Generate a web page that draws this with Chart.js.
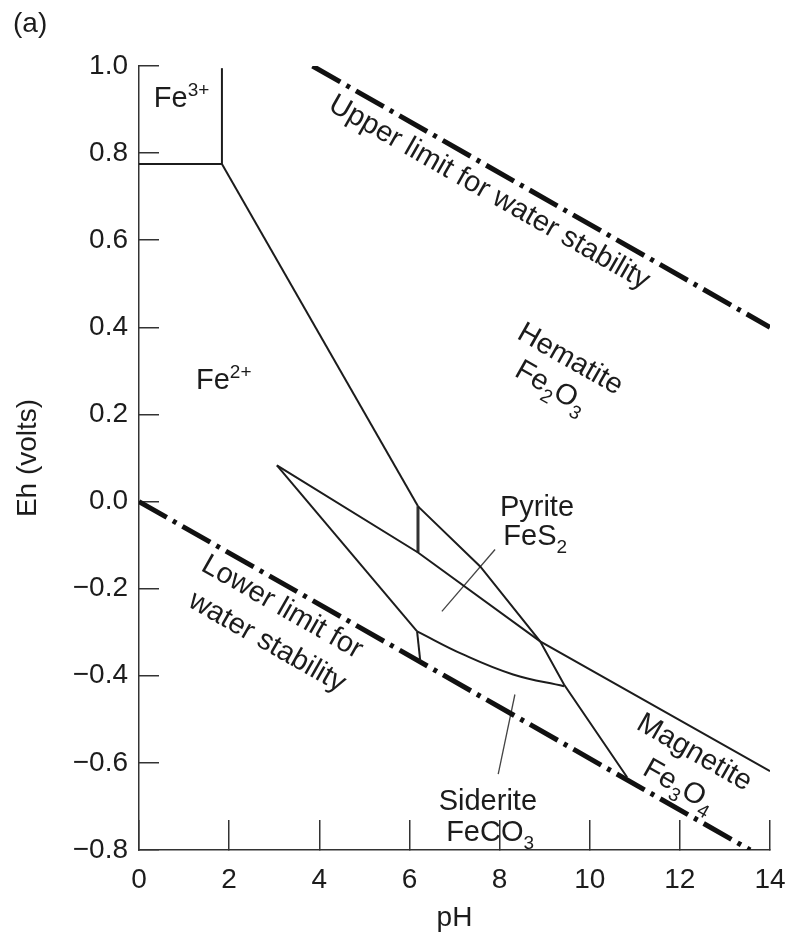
<!DOCTYPE html>
<html>
<head>
<meta charset="utf-8">
<script src="https://cdn.jsdelivr.net/npm/chart.js@4.4.1/dist/chart.umd.min.js"></script>
<style>
  html, body { margin: 0; padding: 0; background: #fff; }
  #wrap { width: 785px; height: 942px; position: relative; }
</style>
</head>
<body>
<div id="wrap"><canvas id="myChart"></canvas></div>
<script>
// tick values
const phTicks = [0, 2, 4, 6, 8, 10, 12, 14];
const ehTicks = [-0.8, -0.6, -0.4, -0.2, 0.0, 0.2, 0.4, 0.6, 0.8, 1.0];

// field boundaries as [pH, Eh] pairs
const fe3Floor = [[0, 0.775], [1.84, 0.775]];
const fe3Wall = [[1.84, 0.775], [1.84, 0.995]];
const fe2Hematite = [[1.84, 0.775], [6.19, -0.011]];
const pyriteRight = [[6.19, -0.011], [7.57, -0.149], [8.90, -0.321], [9.43, -0.42], [10.83, -0.633]];
const pyriteTop = [[3.06, 0.083], [6.19, -0.117], [8.90, -0.321], [14.0, -0.619]];
const pyriteLeft = [[3.06, 0.083], [6.17, -0.298]];
const sideriteTop = [[6.17, -0.298], [7.19, -0.351], [8.30, -0.397], [9.43, -0.424]];
const sideriteWall = [[6.17, -0.298], [6.24, -0.366]];
const pyriteWall = [[6.19, -0.011], [6.19, -0.117]];
const waterHigh = [[3.85, 1.0], [14.0, 0.40]];
const waterLow = [[0, 0.0], [13.56, -0.8]];
const pyriteLeader = [[6.72, -0.252], [7.90, -0.110]];
const sideriteLeader = [[8.34, -0.443], [7.97, -0.626]];

// text labels: anchor [pH, Eh], pieces of text, alignment, rotated along water lines
const labels = [
  { at: [0.33, 0.929], parts: [['Fe'], ['3+', 'sup']], align: 'left' },
  { at: [1.265, 0.282], parts: [['Fe'], ['2+', 'sup']], align: 'left' },
  { at: [7.79, 0.713], parts: [['Upper limit for water stability']], rot: true },
  { at: [9.585, 0.330], parts: [['Hematite']], rot: true },
  { at: [9.16, 0.266], parts: [['Fe'], ['2', 'sub'], ['O'], ['3', 'sub']], rot: true },
  { at: [8.83, -0.011], parts: [['Pyrite']] },
  { at: [8.79, -0.076], parts: [['FeS'], ['2', 'sub']] },
  { at: [7.74, -0.686], parts: [['Siderite']] },
  { at: [7.79, -0.757], parts: [['FeCO'], ['3', 'sub']] },
  { at: [12.34, -0.573], parts: [['Magnetite']], rot: true },
  { at: [12.0, -0.649], parts: [['Fe'], ['3', 'sub'], ['O'], ['4', 'sub']], rot: true },
  { at: [3.195, -0.239], parts: [['Lower limit for']], rot: true },
  { at: [2.86, -0.319], parts: [['water stability']], rot: true }
];

const ink = '#1c1c1c';
const family = "'Liberation Sans', Arial, sans-serif";

function seg(points, extra) {
  return Object.assign({
    data: points.map(p => ({ x: p[0], y: p[1] })),
    showLine: true,
    borderColor: ink,
    borderWidth: 2,
    pointRadius: 0,
    tension: 0,
    fill: false
  }, extra || {});
}

function drawRich(ctx, parts, align) {
  const big = '29px ' + family, small = '19px ' + family;
  let w = 0;
  parts.forEach(p => { ctx.font = p[1] ? small : big; w += ctx.measureText(p[0]).width; });
  let x = align === 'left' ? 0 : -w / 2;
  parts.forEach(p => {
    ctx.font = p[1] ? small : big;
    const dy = p[1] === 'sup' ? -11 : p[1] === 'sub' ? 8 : 0;
    ctx.fillText(p[0], x, 10 + dy);
    x += ctx.measureText(p[0]).width;
  });
}

const labelPlugin = {
  id: 'phaseLabels',
  afterDatasetsDraw(chart) {
    const { ctx, scales: { x, y } } = chart;
    const x0 = x.getPixelForValue(waterLow[0][0]), y0 = y.getPixelForValue(waterLow[0][1]);
    const x1 = x.getPixelForValue(waterLow[1][0]), y1 = y.getPixelForValue(waterLow[1][1]);
    const ang = Math.atan2(y1 - y0, x1 - x0);
    ctx.save();
    ctx.fillStyle = ink;
    ctx.textBaseline = 'alphabetic';
    ctx.textAlign = 'left';
    labels.forEach(l => {
      ctx.save();
      ctx.translate(x.getPixelForValue(l.at[0]), y.getPixelForValue(l.at[1]));
      if (l.rot) ctx.rotate(ang);
      drawRich(ctx, l.parts, l.align);
      ctx.restore();
    });
    ctx.font = '28px ' + family;
    ctx.fillText('(a)', 13, 32);
    ctx.restore();
  }
};

document.addEventListener('DOMContentLoaded', function() {
  const ctx = document.getElementById('myChart');

  new Chart(ctx, {
    type: 'scatter',
    data: {
      datasets: [
        seg(fe3Floor),
        seg(fe3Wall),
        seg(fe2Hematite),
        seg(pyriteRight),
        seg(pyriteTop),
        seg(pyriteLeft),
        seg(sideriteTop, { tension: 0.4 }),
        seg(sideriteWall),
        seg(pyriteWall, { borderWidth: 3, borderColor: '#333' }),
        seg(waterHigh, { borderWidth: 5, borderColor: '#111', borderDash: [32, 7, 4, 7] }),
        seg(waterLow, { borderWidth: 5, borderColor: '#111', borderDash: [32, 7, 4, 7] }),
        seg(pyriteLeader, { borderWidth: 1.3, borderColor: '#444' }),
        seg(sideriteLeader, { borderWidth: 1.3, borderColor: '#444' })
      ]
    },
    options: {
      responsive: true,
      maintainAspectRatio: false,
      animation: false,
      layout: { padding: { top: 66, right: 15, left: 0, bottom: 0 } },
      plugins: { legend: { display: false }, tooltip: { enabled: false } },
      scales: {
        x: {
          type: 'linear',
          min: 0,
          max: 14,
          afterBuildTicks: s => { s.ticks = phTicks.map(v => ({ value: v })); },
          afterFit: s => { s.height = 92; s.paddingLeft = 0; s.paddingRight = 0; },
          grid: { drawOnChartArea: false, drawTicks: true, tickLength: -30, color: '#333', lineWidth: 1.5 },
          border: { display: true, color: '#333', width: 1.5 },
          ticks: { color: ink, font: { family: family, size: 28 }, padding: 43, maxRotation: 0 },
          title: { display: true, text: 'pH', color: ink, font: { family: family, size: 28 }, padding: { top: 0, bottom: 7 } }
        },
        y: {
          type: 'linear',
          min: -0.8,
          max: 1.0,
          afterBuildTicks: s => { s.ticks = ehTicks.map(v => ({ value: v })); },
          afterFit: s => { s.width = 139; s.paddingTop = 0; s.paddingBottom = 0; },
          grid: { drawOnChartArea: false, drawTicks: true, tickLength: -20, color: '#333', lineWidth: 1.5 },
          border: { display: true, color: '#333', width: 1.5 },
          ticks: {
            color: ink,
            font: { family: family, size: 28 },
            padding: 31,
            callback: v => (Math.round(v * 10) / 10).toFixed(1).replace('-', '\u2212')
          },
          title: { display: true, text: 'Eh (volts)', color: ink, font: { family: family, size: 28 }, padding: { top: 11, bottom: 0 } }
        }
      }
    },
    plugins: [labelPlugin]
  });
});
</script>
</body>
</html>
